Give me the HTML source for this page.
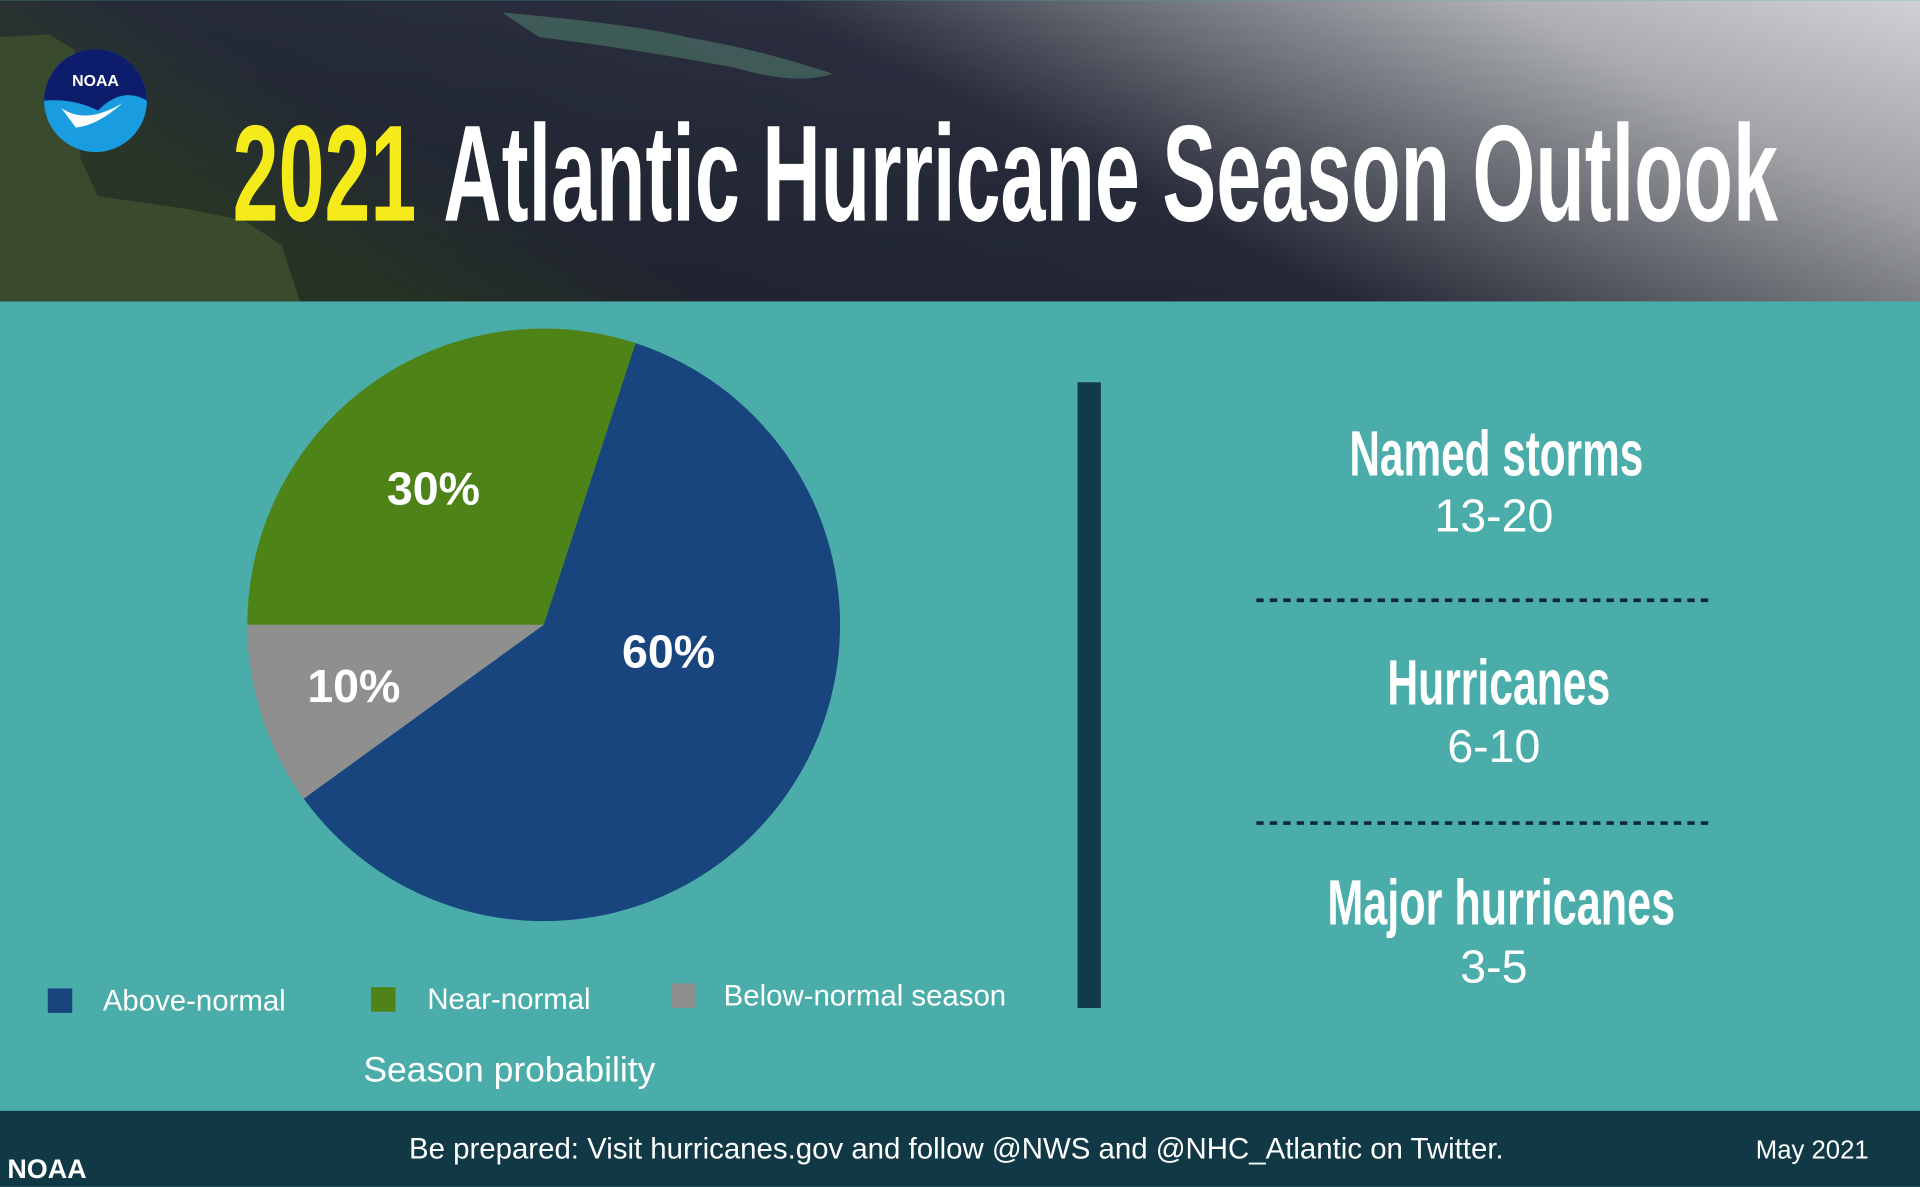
<!DOCTYPE html>
<html><head><meta charset="utf-8"><style>
html,body{margin:0;padding:0;background:#4aadaa;overflow:hidden}
svg{display:block}
</style></head><body>
<svg width="1920" height="1187" viewBox="0 0 1568 969" xmlns="http://www.w3.org/2000/svg">
<defs>
<linearGradient id="sky" x1="0" y1="0.3" x2="1" y2="0">
<stop offset="0" stop-color="#2c3a2a"/>
<stop offset="0.15" stop-color="#252a38"/>
<stop offset="0.45" stop-color="#2a2e3e"/>
<stop offset="0.62" stop-color="#6c7078"/>
<stop offset="0.8" stop-color="#aeb0b4"/>
<stop offset="1" stop-color="#d0d1d4"/>
</linearGradient>
<linearGradient id="sky2" x1="0" y1="0" x2="0" y2="1">
<stop offset="0" stop-color="#000" stop-opacity="0"/>
<stop offset="1" stop-color="#000" stop-opacity="0.15"/>
</linearGradient>
</defs>
<rect x="0" y="0" width="1568" height="246" fill="url(#sky)"/>
<rect x="0" y="0" width="1568" height="246" fill="url(#sky2)"/>
<path d="M0 30 L40 28 L60 40 L70 60 L62 100 L66 130 L80 160 L150 170 L200 180 L230 200 L245 246 L0 246 Z" fill="#3a4a2c"/>
<path d="M410 10 Q520 20 560 30 Q620 40 680 60 Q650 70 600 55 Q520 40 440 30 Z" fill="#4e7a6a" opacity="0.6"/>
<rect x="0" y="246" width="1568" height="662" fill="#4aadaa"/>
<!-- logo -->
<circle cx="78" cy="82" r="42" fill="#1a9ce0"/>
<path d="M36 82 A42 42 0 0 1 120 82 Q100 70 80 90 Q60 80 36 82Z" fill="#0e1d6b"/>
<text x="78" y="70" font-family="Liberation Sans" font-weight="bold" font-size="13" fill="#fff" text-anchor="middle">NOAA</text>
<path d="M50 88 Q70 102 100 84 Q80 102 62 104 Z" fill="#fff"/>
<!-- title -->
<text x="190" y="180" font-family="Liberation Sans Narrow, Liberation Sans, sans-serif" font-weight="bold" font-size="112" fill="#f5ea1a" textLength="150" lengthAdjust="spacingAndGlyphs">2021</text>
<text x="362" y="180" font-family="Liberation Sans Narrow, Liberation Sans, sans-serif" font-weight="bold" font-size="112" fill="#fff" textLength="1090" lengthAdjust="spacingAndGlyphs">Atlantic Hurricane Season Outlook</text>
<!-- pie -->
<path d="M444 510 L519 280 A242 242 0 1 1 248 652 Z" fill="#19457f"/>
<path d="M444 510 L248 652 A242 242 0 0 1 202 510 Z" fill="#8f8f8f"/>
<path d="M444 510 L202 510 A242 242 0 0 1 519 280 Z" fill="#4e8318"/>
<g font-family="Liberation Sans, sans-serif" font-weight="bold" font-size="38" fill="#fff" text-anchor="middle">
<text x="354" y="412">30%</text>
<text x="546" y="545">60%</text>
<text x="289" y="573">10%</text>
</g>
<!-- legend -->
<g font-family="Liberation Sans, sans-serif" font-size="24" fill="#fff">
<rect x="39" y="807" width="20" height="20" fill="#19457f"/><text x="84" y="825">Above-normal</text>
<rect x="303" y="806" width="20" height="20" fill="#4e8318"/><text x="349" y="824">Near-normal</text>
<rect x="548" y="803" width="20" height="20" fill="#8f8f8f"/><text x="591" y="821">Below-normal season</text>
<text x="416" y="883" font-size="29" text-anchor="middle">Season probability</text>
</g>
<rect x="880" y="312" width="19" height="511" fill="#123a48"/>
<!-- stats -->
<g fill="#fff" text-anchor="middle">
<g font-family="Liberation Sans Narrow, Liberation Sans, sans-serif" font-weight="bold" font-size="52">
<text x="1222" y="388" textLength="240" lengthAdjust="spacingAndGlyphs">Named storms</text>
<text x="1224" y="575" textLength="182" lengthAdjust="spacingAndGlyphs">Hurricanes</text>
<text x="1226" y="755" textLength="284" lengthAdjust="spacingAndGlyphs">Major hurricanes</text>
</g>
<g font-family="Liberation Sans, sans-serif" font-size="38">
<text x="1220" y="434">13-20</text>
<text x="1220" y="622">6-10</text>
<text x="1220" y="802">3-5</text>
</g>
</g>
<line x1="1026" y1="490" x2="1398" y2="490" stroke="#102a35" stroke-width="3" stroke-dasharray="6 5"/>
<line x1="1026" y1="672" x2="1398" y2="672" stroke="#102a35" stroke-width="3" stroke-dasharray="6 5"/>
<!-- footer -->
<rect x="0" y="907" width="1568" height="62" fill="#113845"/>
<g font-family="Liberation Sans, sans-serif" fill="#fff">
<text x="6" y="962" font-size="22" font-weight="bold">NOAA</text>
<text x="781" y="946" font-size="24" text-anchor="middle" textLength="894" lengthAdjust="spacingAndGlyphs">Be prepared: Visit hurricanes.gov and follow @NWS and @NHC_Atlantic on Twitter.</text>
<text x="1480" y="946" font-size="21" text-anchor="middle">May 2021</text>
</g>
</svg>
</body></html>
